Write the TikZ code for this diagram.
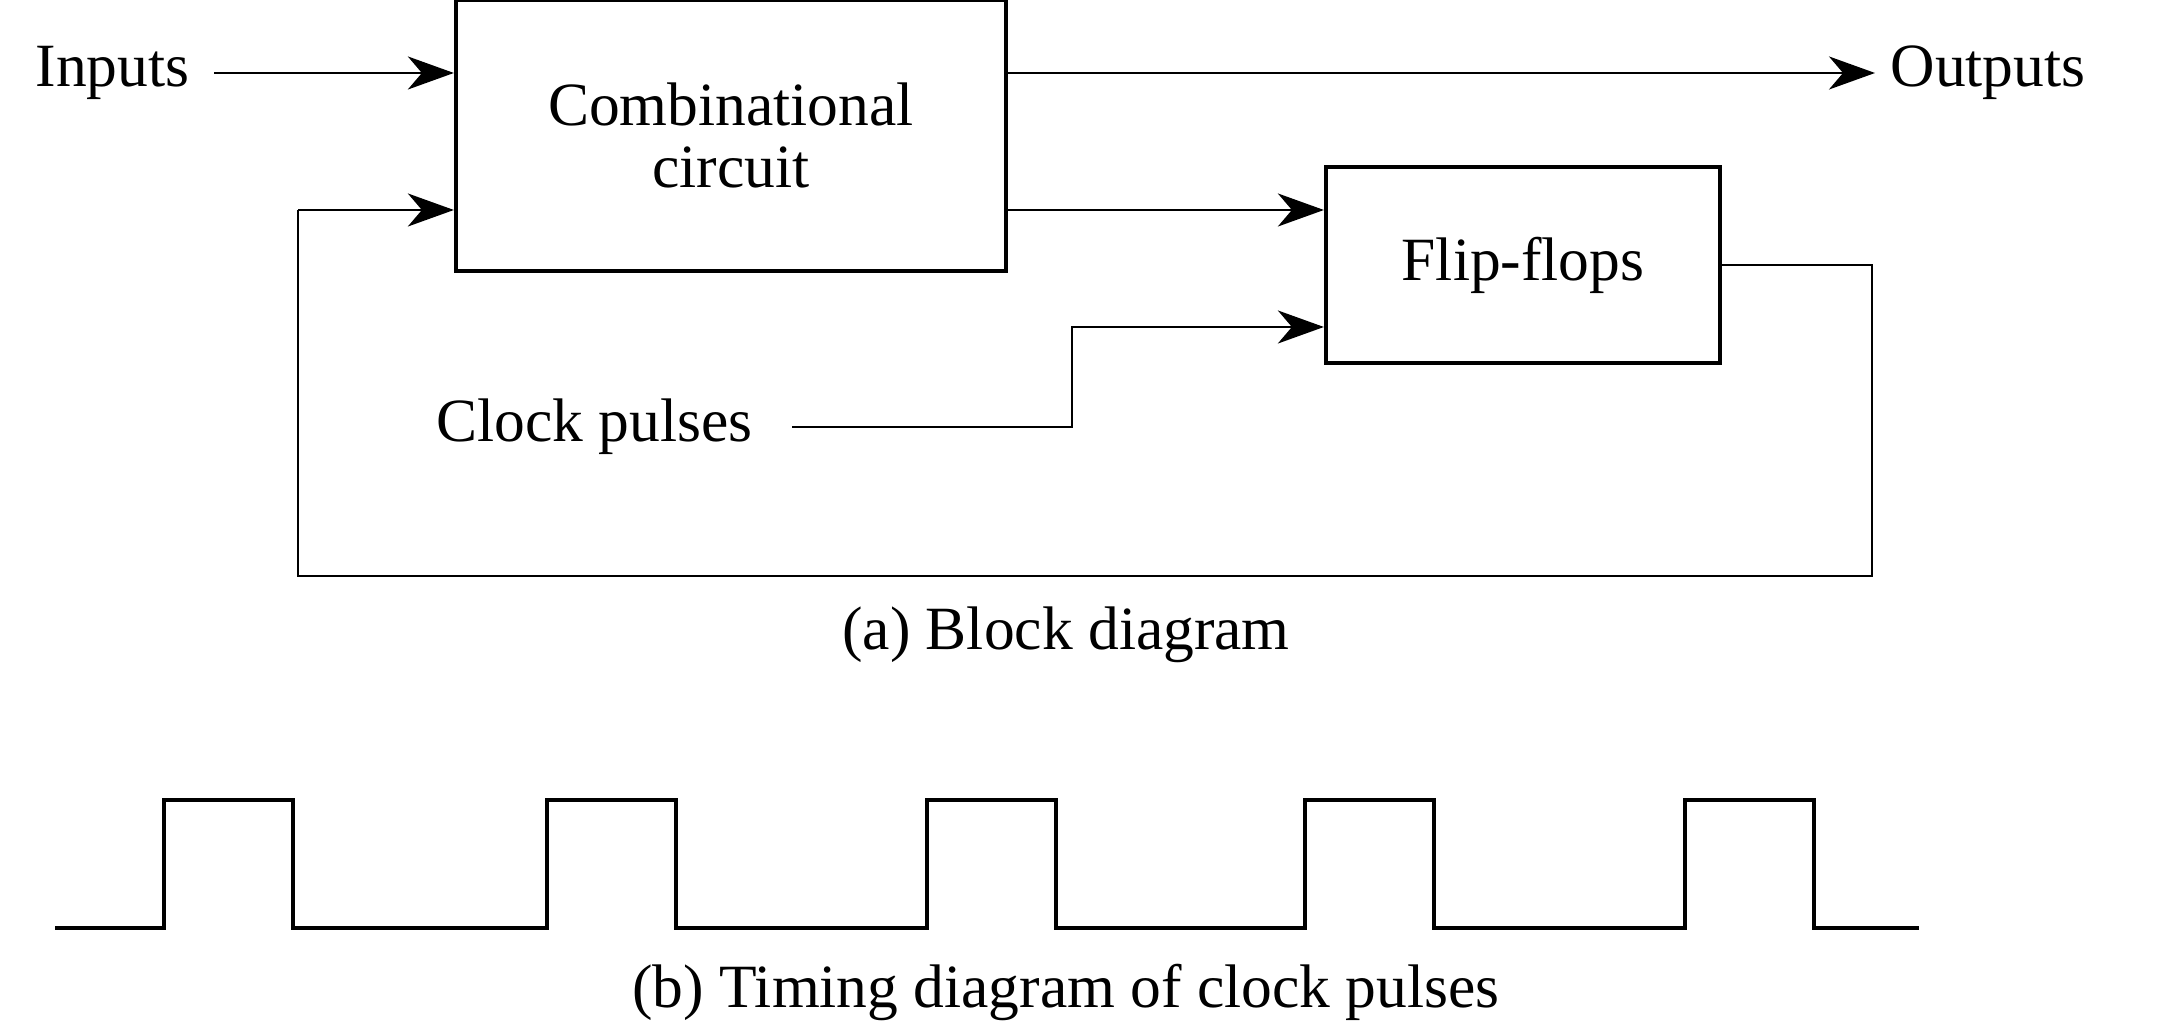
\documentclass[tikz,border=0pt]{standalone}
\usepackage{fontspec}
\setmainfont{Liberation Serif}
\usetikzlibrary{arrows.meta, positioning, calc}

\begin{document}
\begin{tikzpicture}[
  block/.style={rectangle, draw, line width=1.2pt, align=center,
                font=\fontsize{17.5}{17.5}\selectfont},
  lbl/.style={inner ysep=0pt, font=\fontsize{17.5}{20}\selectfont},
  wire/.style={line width=0.75pt},
  arw/.style={wire, -{Stealth[length=4.6mm, width=3.3mm, inset=1.4mm]}},
  pulse/.style={line width=1.3pt},
]
\useasboundingbox (0,0) rectangle (21.66,10.22);

% === Blocks ===
\node[block, minimum width=5.5cm, minimum height=2.71cm] (comb) at (7.31, 8.865)
  {Combinational\\circuit};
\node[block, minimum width=3.94cm, minimum height=1.96cm] (ff) at (15.23, 7.57)
  {Flip-flops};

% === Terminals ===
\node[lbl, anchor=east, inner xsep=2.4mm] (inputs) at (2.14, 9.49) {Inputs};
\node[lbl, anchor=west, inner xsep=1.5mm] (outputs) at (18.75, 9.49) {Outputs};
\node[lbl, anchor=east, inner xsep=3.9mm] (clock) at (7.92, 5.95) {Clock pulses};

\coordinate (fbleft) at (2.98, 8.12);
\coordinate (fbright) at (18.72, 4.46);
\coordinate (ckturn) at (10.72, 6.95);

% === Connections ===
\draw[arw] (inputs.east) -- (inputs.east -| comb.west);
\draw[arw] (comb.east |- outputs.west) -- (outputs.west);
\draw[arw] (comb.east |- fbleft) -- (ff.west |- fbleft);
\draw[arw] (clock.east) -| (ckturn) -- (ff.west |- ckturn);
\draw[wire] (ff.east) -| (fbright) -| (fbleft);
\draw[arw] (fbleft) -- (comb.west |- fbleft);

\node[lbl] (capa) at (10.66, 3.87) {(a) Block diagram};

% === Clock waveform ===
\draw[pulse] (0.55,0.94)
  \foreach \x in {1.64,5.47,9.27,13.05,16.85} {
    -- (\x,0.94) -- (\x,2.22) -- ({\x+1.29},2.22) -- ({\x+1.29},0.94)
  } -- (19.19,0.94);

\node[lbl] (capb) at (10.66, 0.30) {(b) Timing diagram of clock pulses};

\end{tikzpicture}
\end{document}
